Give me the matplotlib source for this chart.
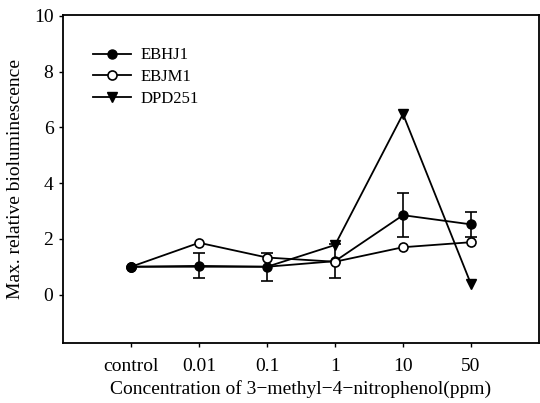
import matplotlib
matplotlib.use("Agg")
import matplotlib.pyplot as plt
from matplotlib.lines import Line2D

plt.rcParams['font.family'] = ['Liberation Serif', 'DejaVu Serif']

categories = ["control", "0.01", "0.1", "1", "10", "50"]

ebhj1 = [1.0, 1.03, 1.0, 1.2, 2.85, 2.52]
ebhj1_err = [0.0, 0.45, 0.5, 0.6, 0.8, 0.45]

ebjm1 = [1.0, 1.86, 1.33, 1.18, 1.70, 1.88]

dpd251 = [1.0, 1.0, 1.0, 1.78, 6.48, 0.38]

x = list(range(len(categories)))

fig = plt.figure(figsize=(5.40, 4.03), dpi=100)
ax = fig.add_axes([0.117, 0.150, 0.881, 0.814])

lw = 1.3
ms = 6.5
# DPD251 coincides with EBHJ1 at the low doses; its symbols are shown from 1 ppm on
ax.plot(x, dpd251, color='black', lw=lw, marker='v', ms=6.5,
        mfc='black', mec='black', markevery=[3, 4, 5], zorder=3)
ax.plot(x, ebhj1, color='black', lw=lw, marker='o', ms=ms,
        mfc='black', mec='black', zorder=4)
# error bars only where a deviation was measured
ax.errorbar(x[1:], ebhj1[1:], yerr=ebhj1_err[1:], fmt='none', ecolor='black',
            capsize=4, elinewidth=1.2, capthick=1.2, zorder=4)
ax.plot(x, ebjm1, color='black', lw=lw, marker='o', ms=ms,
        mfc='white', mec='black', mew=1.2, zorder=5)
# shared control point: filled symbol on top
ax.plot(x[:1], ebhj1[:1], ls='none', marker='o', ms=ms,
        mfc='black', mec='black', zorder=6)

ax.set_xlim(-1, 6)
ax.set_ylim(-1.72, 10.05)
ax.set_xticks(x)
ax.set_xticklabels(categories)
ax.set_yticks([0, 2, 4, 6, 8, 10])
ax.tick_params(axis='both', direction='out', length=3, width=1,
               labelsize=14, pad=4)
ax.tick_params(axis='x', pad=8)

for s in ax.spines.values():
    s.set_linewidth(1.3)

ax.set_xlabel("Concentration of 3\u2212methyl\u22124\u2212nitrophenol(ppm)",
              fontsize=14, labelpad=4)
ax.set_ylabel("Max. relative bioluminescence", fontsize=14, labelpad=7)

handles = [
    Line2D([], [], color='black', lw=lw, marker='o', ms=ms, mfc='black', mec='black'),
    Line2D([], [], color='black', lw=lw, marker='o', ms=ms, mfc='white', mec='black', mew=1.2),
    Line2D([], [], color='black', lw=lw, marker='v', ms=6.5, mfc='black', mec='black'),
]
labels = ["EBHJ1", "EBJM1", "DPD251"]
ax.legend(handles, labels, loc='upper left', bbox_to_anchor=(0.048, 0.92),
          frameon=False, fontsize=12, handlelength=2.3, handletextpad=0.55,
          labelspacing=0.35, borderaxespad=0)

fig.savefig("out.png", dpi=100)
